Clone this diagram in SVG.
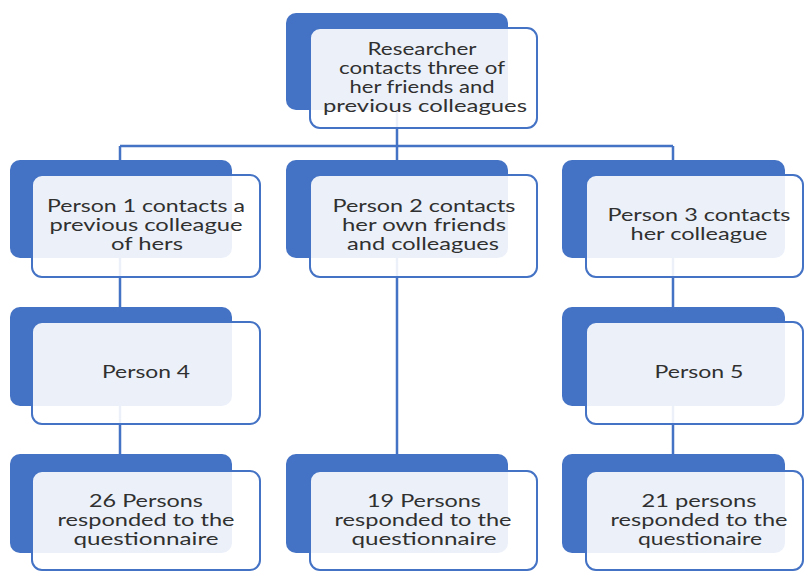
<svg xmlns="http://www.w3.org/2000/svg" width="804" height="571" viewBox="0 0 804 571">
<style>
.bg{fill:#ffffff}
.back{fill:#4472C4}
.front{fill:#ffffff;fill-opacity:0.9;stroke:#4472C4;stroke-width:2}
.conn{stroke:#4472C4;stroke-width:2.5;fill:none}
text{font-family:Lato,"Open Sans","Liberation Sans",sans-serif;font-size:17px;fill:#303030;text-anchor:middle}
</style>
<rect class="bg" x="0" y="0" width="804" height="571"/>
<g id="connectors">
<path class="conn" d="M120,146 H673"/>
<path class="conn" d="M397,105 V455"/>
<path class="conn" d="M120,146 V454"/>
<path class="conn" d="M673,146 V454"/>
</g>
<g id="n0">
<rect class="back" x="286" y="13" width="222" height="97" rx="10"/>
<rect class="front" x="310" y="28" width="227" height="100" rx="10"/>
<text x="422" y="55" textLength="109" lengthAdjust="spacingAndGlyphs">Researcher</text>
<text x="422" y="74" textLength="166" lengthAdjust="spacingAndGlyphs">contacts three of</text>
<text x="422" y="93" textLength="145" lengthAdjust="spacingAndGlyphs">her friends and</text>
<text x="425" y="112" textLength="204" lengthAdjust="spacingAndGlyphs">previous colleagues</text>
</g>
<g id="n1">
<rect class="back" x="10" y="160" width="222" height="98" rx="10"/>
<rect class="front" x="32" y="175" width="228" height="102" rx="10"/>
<text x="146" y="212" textLength="198" lengthAdjust="spacingAndGlyphs">Person 1 contacts a</text>
<text x="146" y="231" textLength="193" lengthAdjust="spacingAndGlyphs">previous colleague</text>
<text x="147" y="250" textLength="72" lengthAdjust="spacingAndGlyphs">of hers</text>
</g>
<g id="n2">
<rect class="back" x="286" y="160" width="222" height="98" rx="10"/>
<rect class="front" x="310" y="175" width="227" height="102" rx="10"/>
<text x="424" y="212" textLength="183" lengthAdjust="spacingAndGlyphs">Person 2 contacts</text>
<text x="424" y="231" textLength="164" lengthAdjust="spacingAndGlyphs">her own friends</text>
<text x="423" y="250" textLength="152" lengthAdjust="spacingAndGlyphs">and colleagues</text>
</g>
<g id="n3">
<rect class="back" x="562" y="160" width="223" height="98" rx="10"/>
<rect class="front" x="586" y="175" width="217" height="102" rx="10"/>
<text x="699" y="221" textLength="183" lengthAdjust="spacingAndGlyphs">Person 3 contacts</text>
<text x="699" y="240" textLength="137" lengthAdjust="spacingAndGlyphs">her colleague</text>
</g>
<g id="n4">
<rect class="back" x="10" y="307" width="222" height="99" rx="10"/>
<rect class="front" x="32" y="322" width="228" height="102" rx="10"/>
<text x="146" y="378" textLength="88" lengthAdjust="spacingAndGlyphs">Person 4</text>
</g>
<g id="n5">
<rect class="back" x="562" y="307" width="223" height="99" rx="10"/>
<rect class="front" x="586" y="322" width="217" height="102" rx="10"/>
<text x="699" y="378" textLength="89" lengthAdjust="spacingAndGlyphs">Person 5</text>
</g>
<g id="n6">
<rect class="back" x="10" y="454" width="222" height="99" rx="10"/>
<rect class="front" x="32" y="471" width="228" height="99" rx="10"/>
<text x="146" y="507" textLength="114" lengthAdjust="spacingAndGlyphs">26 Persons</text>
<text x="146" y="526" textLength="177" lengthAdjust="spacingAndGlyphs">responded to the</text>
<text x="146" y="545" textLength="145" lengthAdjust="spacingAndGlyphs">questionnaire</text>
</g>
<g id="n7">
<rect class="back" x="286" y="454" width="222" height="99" rx="10"/>
<rect class="front" x="310" y="471" width="227" height="99" rx="10"/>
<text x="424" y="507" textLength="114" lengthAdjust="spacingAndGlyphs">19 Persons</text>
<text x="423" y="526" textLength="177" lengthAdjust="spacingAndGlyphs">responded to the</text>
<text x="424" y="545" textLength="145" lengthAdjust="spacingAndGlyphs">questionnaire</text>
</g>
<g id="n8">
<rect class="back" x="562" y="454" width="223" height="99" rx="10"/>
<rect class="front" x="586" y="471" width="217" height="99" rx="10"/>
<text x="699" y="507" textLength="115" lengthAdjust="spacingAndGlyphs">21 persons</text>
<text x="699" y="526" textLength="177" lengthAdjust="spacingAndGlyphs">responded to the</text>
<text x="700" y="545" textLength="124" lengthAdjust="spacingAndGlyphs">questionaire</text>
</g>
</svg>
